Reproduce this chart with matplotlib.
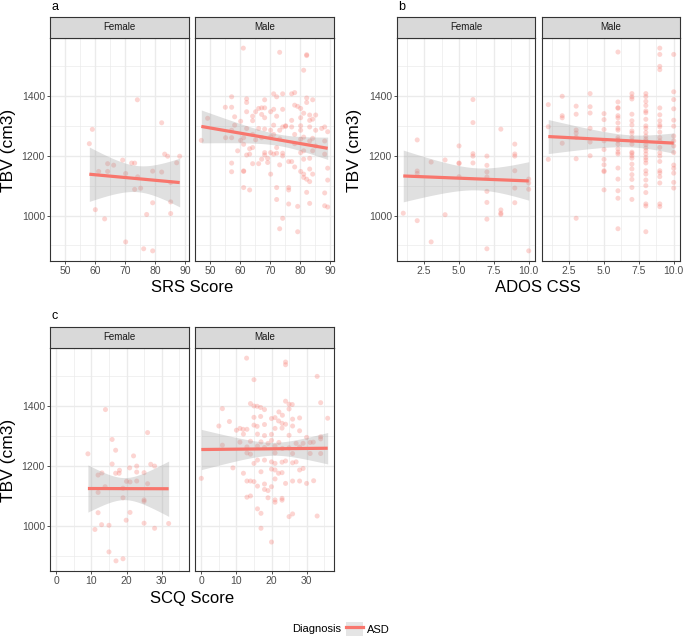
import numpy as np
import matplotlib
matplotlib.use('Agg')
import matplotlib.pyplot as plt
from matplotlib.patches import Patch
from matplotlib.lines import Line2D
from matplotlib.ticker import MultipleLocator, FormatStrFormatter

plt.rcParams['font.family'] = ['Liberation Sans', 'DejaVu Sans']

ASD_RED = '#F8766D'

# --- a: SRS score ---
srs_female_x = [74.1, 82.2, 59.1, 58.1, 83.2, 84.2, 88.2, 87.2, 69.2, 72.2, 73.2, 64.2, 66.2, 61.2,
                64.2, 70.2, 79.2, 82.2, 74.2, 85.2, 73.2, 75.2, 79.2, 85.2, 60.1, 77.2, 85.2, 63.2,
                70.2, 76.2, 79.2]
srs_female_tbv = [1388, 1311, 1289, 1241, 1206, 1199, 1199, 1177, 1186, 1176, 1176, 1174, 1169, 1148,
                  1148, 1141, 1149, 1146, 1130, 1111, 1088, 1092, 1043, 1046, 1020, 1004, 1007, 989,
                  912, 889, 882]

srs_male_x = [61.1, 73.2, 82.2, 82.2, 81.2, 71.2, 74.2, 77.2, 78.2, 72.2, 57.2, 62.2, 82.2, 68.2,
              84.2, 62.2, 55.1, 57.2, 66.2, 67.2, 68.2, 78.2, 79.2, 80.2, 82.2, 74.2, 62.2, 65.2,
              70.2, 71.2, 81.2, 83.2, 85.2, 58.2, 64.2, 67.2, 68.2, 72.2, 80.2, 84.2, 49.2, 60.2,
              64.2, 77.2, 83.2, 71.2, 58.2, 75.2, 75.2, 74.2, 77.2, 80.2, 83.2, 87.2, 88.2, 89.2,
              62.2, 66.2, 68.2, 70.2, 57.2, 73.2, 80.2, 85.2, 64.2, 71.2, 78.2, 55.2, 57.2, 61.2,
              67.2, 70.2, 81.2, 84.2, 47.1, 60.2, 65.2, 73.2, 80.2, 83.2, 88.2, 61.2, 78.2, 85.2,
              64.2, 63.2, 72.2, 81.2, 59.2, 68.2, 70.2, 72.2, 71.2, 74.2, 62.2, 63.2, 74.2, 88.2,
              68.2, 69.2, 80.2, 84.2, 67.2, 81.2, 83.2, 76.2, 77.2, 64.2, 66.2, 69.2, 73.2, 57.2,
              78.2, 57.2, 61.2, 61.2, 83.2, 70.2, 80.2, 81.2, 84.2, 89.2, 81.2, 82.2, 83.2, 89.2,
              72.2, 76.2, 76.2, 61.2, 63.2, 82.2, 88.2, 72.2, 83.2, 76.2, 79.2, 88.2, 89.2, 74.2,
              73.2, 79.2]
srs_male_tbv = [1561, 1547, 1539, 1536, 1487, 1408, 1408, 1408, 1412, 1398, 1398, 1391, 1394, 1388,
                1388, 1379, 1363, 1363, 1359, 1361, 1361, 1370, 1366, 1359, 1379, 1356, 1348, 1348,
                1348, 1356, 1343, 1337, 1337, 1331, 1333, 1339, 1328, 1333, 1328, 1323, 1326, 1316,
                1318, 1319, 1319, 1303, 1303, 1301, 1299, 1297, 1297, 1301, 1297, 1292, 1297, 1281,
                1292, 1292, 1290, 1286, 1286, 1286, 1286, 1286, 1272, 1272, 1272, 1261, 1261, 1261,
                1261, 1264, 1263, 1259, 1252, 1252, 1254, 1257, 1256, 1250, 1250, 1239, 1241, 1233,
                1228, 1224, 1228, 1217, 1217, 1211, 1211, 1209, 1206, 1209, 1203, 1206, 1200, 1206,
                1203, 1192, 1211, 1217, 1189, 1189, 1192, 1181, 1181, 1174, 1174, 1178, 1170, 1176,
                1163, 1147, 1150, 1148, 1156, 1139, 1148, 1139, 1139, 1159, 1128, 1122, 1114, 1119,
                1094, 1094, 1086, 1094, 1086, 1078, 1076, 1054, 1041, 1039, 1031, 1033, 1029, 991,
                956, 946]

# --- b: ADOS CSS ---
ados_female_x = [1, 2, 2, 2, 2, 3, 3, 4, 4, 5, 5, 5, 5, 6, 6, 6, 6, 6,
                 7, 7, 7, 7, 7, 7, 7, 7, 8, 8, 8, 8, 9, 9, 9, 9, 9, 9, 10, 10, 10, 10]
ados_female_tbv = [1008, 1253, 1149, 1141, 983, 1179, 912, 1186, 1003, 1233, 1176, 1174, 1130,
                   1388, 1311, 1207, 1199, 1176, 1199, 1168, 1146, 1129, 1081, 1044, 988, 889,
                   1289, 1019, 1008, 1004, 1239, 1206, 1199, 1150, 1092, 1043, 1122, 1109, 1088, 882]

ados_male_x = [1, 1, 1,
               2, 2, 2, 2,
               3, 3, 3, 3, 3, 3, 3,
               4, 4, 4, 4, 4, 4,
               5, 5, 5, 5, 5, 5, 5, 5, 5, 5,
               6, 6, 6, 6, 6, 6, 6, 6, 6, 6, 6, 6, 6, 6, 6, 6, 6, 6, 6, 6, 6,
               7, 7, 7, 7, 7, 7, 7, 7, 7, 7, 7, 7, 7, 7, 7, 7, 7, 7, 7, 7, 7,
               8, 8, 8, 8, 8, 8, 8, 8, 8, 8, 8, 8, 8, 8, 8, 8, 8, 8, 8, 8, 8, 8, 8, 8, 8, 8, 8, 8,
               9, 9, 9, 9, 9, 9, 9, 9, 9, 9, 9, 9, 9, 9, 9, 9, 9, 9, 9, 9, 9, 9,
               10, 10, 10, 10, 10, 10, 10, 10, 10, 10, 10, 10, 10, 10, 10]
ados_male_tbv = [1371, 1297, 1188,
                 1399, 1334, 1327, 1242,
                 1366, 1339, 1286, 1276, 1262, 1190, 991,
                 1408, 1364, 1343, 1292, 1246, 1200,
                 1341, 1321, 1288, 1250, 1221, 1188, 1170, 1150, 1147, 1086,
                 1547, 1380, 1361, 1359, 1334, 1327, 1310, 1292, 1286, 1261, 1254, 1250, 1239, 1223,
                 1212, 1206, 1159, 1122, 1083, 1058, 956,
                 1408, 1397, 1390, 1339, 1317, 1303, 1283, 1276, 1261, 1250, 1239, 1212, 1208, 1200,
                 1192, 1172, 1156, 1137, 1121, 1094, 1054,
                 1408, 1398, 1382, 1368, 1350, 1344, 1322, 1300, 1292, 1278, 1266, 1256, 1250, 1237,
                 1226, 1217, 1206, 1194, 1186, 1176, 1150, 1139, 1119, 1100, 1077, 1039, 1032, 946,
                 1560, 1539, 1499, 1488, 1360, 1337, 1317, 1303, 1297, 1279, 1261, 1250, 1228, 1210,
                 1199, 1181, 1150, 1143, 1130, 1109, 1039, 1030,
                 1539, 1414, 1388, 1357, 1319, 1299, 1266, 1250, 1233, 1211, 1169, 1158, 1142, 1111, 1092]

# --- c: SCQ score ---
scq_female_x = [14.0, 26.0, 15.9, 16.9, 9.0, 22.0, 15.9, 26.9, 28.0, 22.9, 20.9, 18.0, 13.0, 11.9,
                16.9, 17.9, 22.9, 25.0, 20.0, 21.0, 22.9, 26.0, 13.9, 19.0, 11.9, 19.0, 25.0, 25.0,
                11.9, 21.0, 19.9, 12.9, 15.0, 25.0, 32.0, 11.0, 28.0, 15.0, 19.0, 17.0]
scq_female_tbv = [1389, 1312, 1289, 1253, 1241, 1234, 1207, 1206, 1200, 1200, 1194, 1186, 1177, 1170,
                  1176, 1176, 1180, 1178, 1149, 1147, 1150, 1141, 1131, 1126, 1112, 1094, 1087, 1082,
                  1044, 1045, 1019, 1004, 1002, 1009, 1008, 988, 992, 913, 890, 883]

scq_male_x = [12.9, 24.0, 24.0, 33.0, 15.0, 24.0, 25.0, 25.9, 34.0, 14.0, 15.0, 15.9, 16.9, 18.0,
              6.0, 25.0, 22.1, 23.1, 21.0, 36.0, 28.0, 15.0, 16.9, 20.0, 8.0, 26.0, 22.0, 23.0,
              24.0, 15.0, 15.9, 18.0, 26.0, 5.0, 11.0, 10.0, 11.9, 13.0, 21.0, 23.0, 12.0, 16.0,
              18.0, 20.0, 25.0, 28.0, 34.0, 34.0, 30.0, 11.0, 14.0, 17.0, 19.0, 20.0, 22.1, 27.0,
              29.0, 31.9, 31.0, 6.0, 13.0, 16.0, 18.0, 21.0, 23.1, 25.0, 28.0, 13.0, 14.0, 21.0,
              31.0, 34.0, 26.0, 16.0, 18.0, 20.0, 23.0, 24.0, 27.0, 15.0, 21.0, 26.0, 9.0, 20.0,
              29.0, 28.0, 21.0, 12.0, 17.0, 22.0, 23.0, 13.0, 14.0, 15.0, 26.0, 28.0, 30.0, 32.0,
              16.0, 18.0, 21.0, 24.0, 18.0, 19.0, 20.0, 14.0, 13.0, 21.0, 23.0, 21.0, 23.0, 19.0,
              16.0, 17.0, 26.0, 25.0, 33.0, 17.0, 20.0, 0.0]
scq_male_tbv = [1561, 1548, 1539, 1500, 1489, 1417, 1407, 1406, 1412, 1409, 1401, 1400, 1396, 1389,
                1392, 1391, 1381, 1370, 1362, 1360, 1361, 1363, 1366, 1359, 1349, 1357, 1351, 1343,
                1340, 1337, 1333, 1339, 1334, 1334, 1326, 1320, 1323, 1323, 1326, 1327, 1307, 1307,
                1302, 1306, 1303, 1318, 1298, 1291, 1296, 1280, 1283, 1281, 1276, 1286, 1279, 1276,
                1276, 1280, 1279, 1270, 1264, 1267, 1262, 1267, 1259, 1261, 1264, 1244, 1240, 1244,
                1242, 1242, 1242, 1220, 1220, 1214, 1213, 1217, 1214, 1209, 1209, 1211, 1194, 1190,
                1192, 1187, 1187, 1176, 1181, 1176, 1178, 1150, 1150, 1148, 1150, 1150, 1142, 1151,
                1133, 1140, 1157, 1142, 1122, 1118, 1131, 1100, 1096, 1087, 1092, 1079, 1086, 1094,
                1057, 1042, 1040, 1031, 1033, 992, 946, 1159]

W, H = 685, 639


def box(x0, y0, x1, y1):
    # pixel rectangle (top-left origin) -> figure fraction
    return [x0 / W, 1 - y1 / H, (x1 - x0) / W, (y1 - y0) / H]


def t_quantile(df, z=1.959964):
    # Cornish-Fisher approximation of the 97.5% t quantile
    return z + (z ** 3 + z) / (4 * df) + (5 * z ** 5 + 16 * z ** 3 + 3 * z) / (96 * df ** 2)


def draw_panel(fig, rect, strip_top, title, x, y, xlim, ylim, xmajor, xminor, show_y):
    x = np.asarray(x, float)
    y = np.asarray(y, float)
    ax = fig.add_axes(box(*rect))
    ax.set_facecolor('white')
    ax.scatter(x, y, s=13, color=ASD_RED, alpha=0.3, edgecolors='none', zorder=2)

    # linear fit with 95% confidence band (like geom_smooth(method='lm'))
    n = len(x)
    slope, intercept = np.polyfit(x, y, 1)
    resid = y - (slope * x + intercept)
    s = np.sqrt(np.sum(resid ** 2) / (n - 2))
    xs = np.linspace(x.min(), x.max(), 80)
    se = s * np.sqrt(1 / n + (xs - x.mean()) ** 2 / np.sum((x - x.mean()) ** 2))
    fit = slope * xs + intercept
    tq = t_quantile(n - 2)
    ax.fill_between(xs, fit - tq * se, fit + tq * se, color='#999999', alpha=0.3, lw=0, zorder=3)
    ax.plot(xs, fit, color=ASD_RED, lw=2.3, zorder=4, solid_capstyle='butt')

    ax.set_xlim(*xlim)
    ax.set_ylim(*ylim)
    ax.xaxis.set_major_locator(MultipleLocator(xmajor))
    ax.xaxis.set_minor_locator(MultipleLocator(xminor))
    ax.yaxis.set_major_locator(MultipleLocator(200))
    ax.yaxis.set_minor_locator(MultipleLocator(100))
    ax.grid(which='major', color='#EBEBEB', lw=1.0, zorder=0)
    ax.grid(which='minor', color='#EBEBEB', lw=0.5, zorder=0)
    ax.set_axisbelow(True)
    for sp in ax.spines.values():
        sp.set_color('#333333')
        sp.set_linewidth(0.8)
    ax.tick_params(which='minor', length=0)
    ax.tick_params(which='major', length=2.2, width=0.6, color='#333333',
                   labelsize=7.5, labelcolor='#4D4D4D', pad=1.5)
    if not show_y:
        ax.tick_params(axis='y', left=False, labelleft=False)
    if xmajor == 2.5:
        ax.xaxis.set_major_formatter(FormatStrFormatter('%.1f'))

    # facet strip
    sx = fig.add_axes(box(rect[0], strip_top, rect[2], rect[1]))
    sx.set_facecolor('#D9D9D9')
    sx.set_xticks([])
    sx.set_yticks([])
    for sp in sx.spines.values():
        sp.set_color('#333333')
        sp.set_linewidth(0.8)
    sx.text(0.5, 0.5, title, ha='center', va='center', fontsize=7, color='#1A1A1A',
            transform=sx.transAxes)
    return ax


def limits(*series):
    lo = min(min(v) for v in series)
    hi = max(max(v) for v in series)
    pad = (hi - lo) * 0.05
    return lo - pad, hi + pad


fig = plt.figure(figsize=(6.85, 6.39), dpi=100)

# a
yl = limits(srs_female_tbv, srs_male_tbv)
xl = limits(srs_female_x, srs_male_x)
draw_panel(fig, (50, 38, 189, 261), 17, 'Female', srs_female_x, srs_female_tbv, xl, yl, 10, 5, True)
draw_panel(fig, (195, 38, 334, 261), 17, 'Male', srs_male_x, srs_male_tbv, xl, yl, 10, 5, False)
fig.text(52 / W, 1 - 7 / H, 'a', fontsize=9, va='center', ha='left')
fig.text(192 / W, 1 - 287 / H, 'SRS Score', fontsize=12, ha='center', va='center')
fig.text(9 / W, 1 - 150 / H, 'TBV (cm3)', fontsize=12.5, rotation=90, ha='center', va='center')

# b
yl = limits(ados_female_tbv, ados_male_tbv)
xl = limits(ados_female_x, ados_male_x)
draw_panel(fig, (397, 38, 535, 261), 17, 'Female', ados_female_x, ados_female_tbv, xl, yl, 2.5, 1.25, True)
draw_panel(fig, (542, 38, 680, 261), 17, 'Male', ados_male_x, ados_male_tbv, xl, yl, 2.5, 1.25, False)
fig.text(398 / W, 1 - 7 / H, 'b', fontsize=9, va='center', ha='left')
fig.text(538 / W, 1 - 287 / H, 'ADOS CSS', fontsize=12, ha='center', va='center')
fig.text(354 / W, 1 - 150 / H, 'TBV (cm3)', fontsize=12.5, rotation=90, ha='center', va='center')

# c
yl = limits(scq_female_tbv, scq_male_tbv)
xl = limits(scq_female_x, scq_male_x)
draw_panel(fig, (50, 348, 189, 571), 327, 'Female', scq_female_x, scq_female_tbv, xl, yl, 10, 5, True)
draw_panel(fig, (195, 348, 334, 571), 327, 'Male', scq_male_x, scq_male_tbv, xl, yl, 10, 5, False)
fig.text(52 / W, 1 - 316 / H, 'c', fontsize=9, va='center', ha='left')
fig.text(192 / W, 1 - 598 / H, 'SCQ Score', fontsize=12, ha='center', va='center')
fig.text(9 / W, 1 - 460 / H, 'TBV (cm3)', fontsize=12.5, rotation=90, ha='center', va='center')

# legend at the bottom
fig.text(292 / W, 1 - 629 / H, 'Diagnosis', fontsize=8, ha='left', va='center')
key = (Patch(facecolor='#E5E5E5', edgecolor='none'), Line2D([], [], color=ASD_RED, lw=2.3))
fig.legend([key], ['ASD'], loc='center left', bbox_to_anchor=(346 / W, 1 - 629 / H),
           frameon=False, fontsize=8, handlelength=1.5, handleheight=1.5, handletextpad=0.4,
           borderpad=0, borderaxespad=0)

fig.savefig('out.png', dpi=100)
